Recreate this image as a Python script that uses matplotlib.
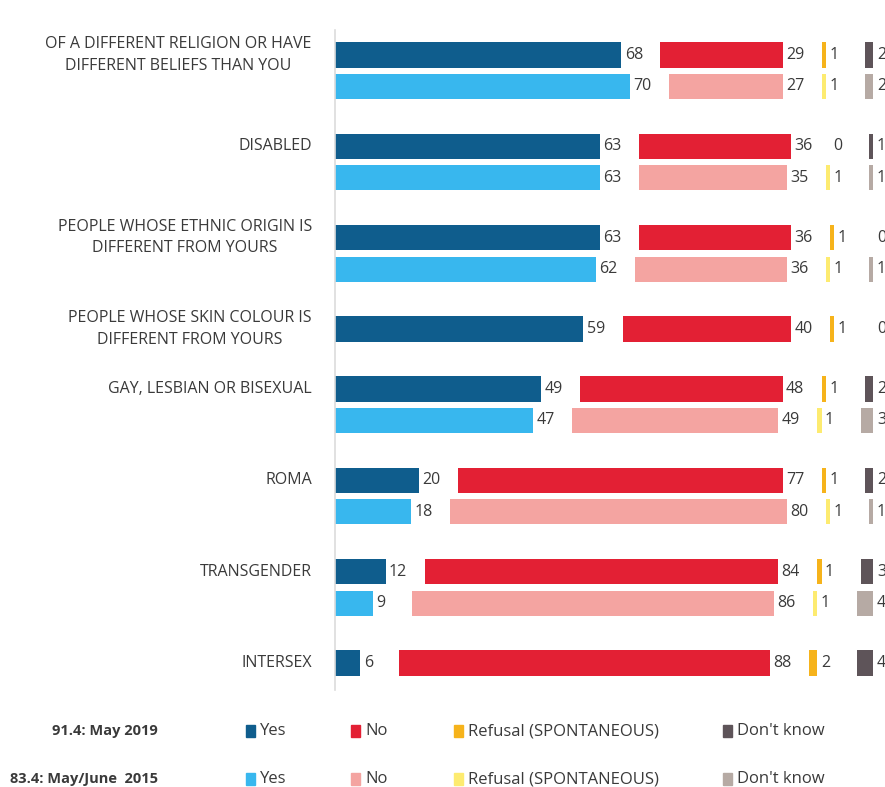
import matplotlib.pyplot as plt
from matplotlib.patches import Rectangle

plt.rcParams['font.family'] = ['Open Sans', 'DejaVu Sans']

categories = [
    'OF A DIFFERENT RELIGION OR HAVE\nDIFFERENT BELIEFS THAN YOU',
    'DISABLED',
    'PEOPLE WHOSE ETHNIC ORIGIN IS\nDIFFERENT FROM YOURS',
    'PEOPLE WHOSE SKIN COLOUR IS\nDIFFERENT FROM YOURS',
    'GAY, LESBIAN OR BISEXUAL',
    'ROMA',
    'TRANSGENDER',
    'INTERSEX',
]
answers = ['Yes', 'No', 'Refusal (SPONTANEOUS)', "Don't know"]

# [Yes, No, Refusal, Don't know]
wave_2019 = [
    [68, 29, 1, 2],
    [63, 36, 0, 1],
    [63, 36, 1, 0],
    [59, 40, 1, 0],
    [49, 48, 1, 2],
    [20, 77, 1, 2],
    [12, 84, 1, 3],
    [6, 88, 2, 4],
]
wave_2015 = [
    [70, 27, 1, 2],
    [63, 35, 1, 1],
    [62, 36, 1, 1],
    None,
    [47, 49, 1, 3],
    [18, 80, 1, 1],
    [9, 86, 1, 4],
    None,
]
wave_labels = ['91.4: May 2019', '83.4: May/June  2015']
colors_2019 = ['#0f5d8d', '#e32034', '#f6b31b', '#5e5459']
colors_2015 = ['#38b7ee', '#f4a4a1', '#fdeb70', '#b6aaa4']

gap = 9.3        # space between segments (room for value labels)
bar_h = 0.8
group_gap = 0.9

fig = plt.figure(figsize=(8.85, 7.87), dpi=100)
ax = fig.add_axes([335 / 885, 1 - 690 / 787, 550 / 885, 660 / 787])


def draw_row(y, values, colors):
    start = 0
    for v, c in zip(values, colors):
        if v > 0:
            ax.barh(y, v, left=start, height=bar_h, color=c, edgecolor='none')
        ax.text(start + v + 0.8, y, str(v), va='center', ha='left',
                fontsize=11.5, color='#3a3a3a')
        start = start + v + gap


y = 0
for cat, r19, r15 in zip(categories, wave_2019, wave_2015):
    draw_row(y, r19, colors_2019)
    ax.text(-5.5, y, cat, ha='right', va='center', multialignment='center',
            fontsize=11.5, color='#3a3a3a', linespacing=1.45)
    if r15 is not None:
        draw_row(y + 1, r15, colors_2015)
        y += 2 + group_gap
    else:
        y += 1 + group_gap

ax.set_xlim(0, 550 / 4.21)
ax.set_ylim((690 - 55) / 31.5, (30 - 55) / 31.5)
ax.set_xticks([])
ax.set_yticks([])
for s in ['top', 'right', 'bottom']:
    ax.spines[s].set_visible(False)
ax.spines['left'].set_color('#dcdcdc')
ax.spines['left'].set_linewidth(1.2)

# legend
legend_x = [246, 351, 454, 723]
for row, (lab, cols) in enumerate(zip(wave_labels, [colors_2019, colors_2015])):
    yy = 1 - (731 + row * 48) / 787
    fig.text(158 / 885, yy, lab, ha='right', va='center', fontsize=10.5,
             fontweight='bold', color='#3a3a3a')
    for x, name, c in zip(legend_x, answers, cols):
        fig.patches.append(Rectangle((x / 885, yy - 6 / 787), 9 / 885, 12 / 787,
                                     transform=fig.transFigure, color=c))
        fig.text((x + 14) / 885, yy, name, ha='left', va='center',
                 fontsize=12, color='#3a3a3a')

fig.savefig('out.png', dpi=100)
